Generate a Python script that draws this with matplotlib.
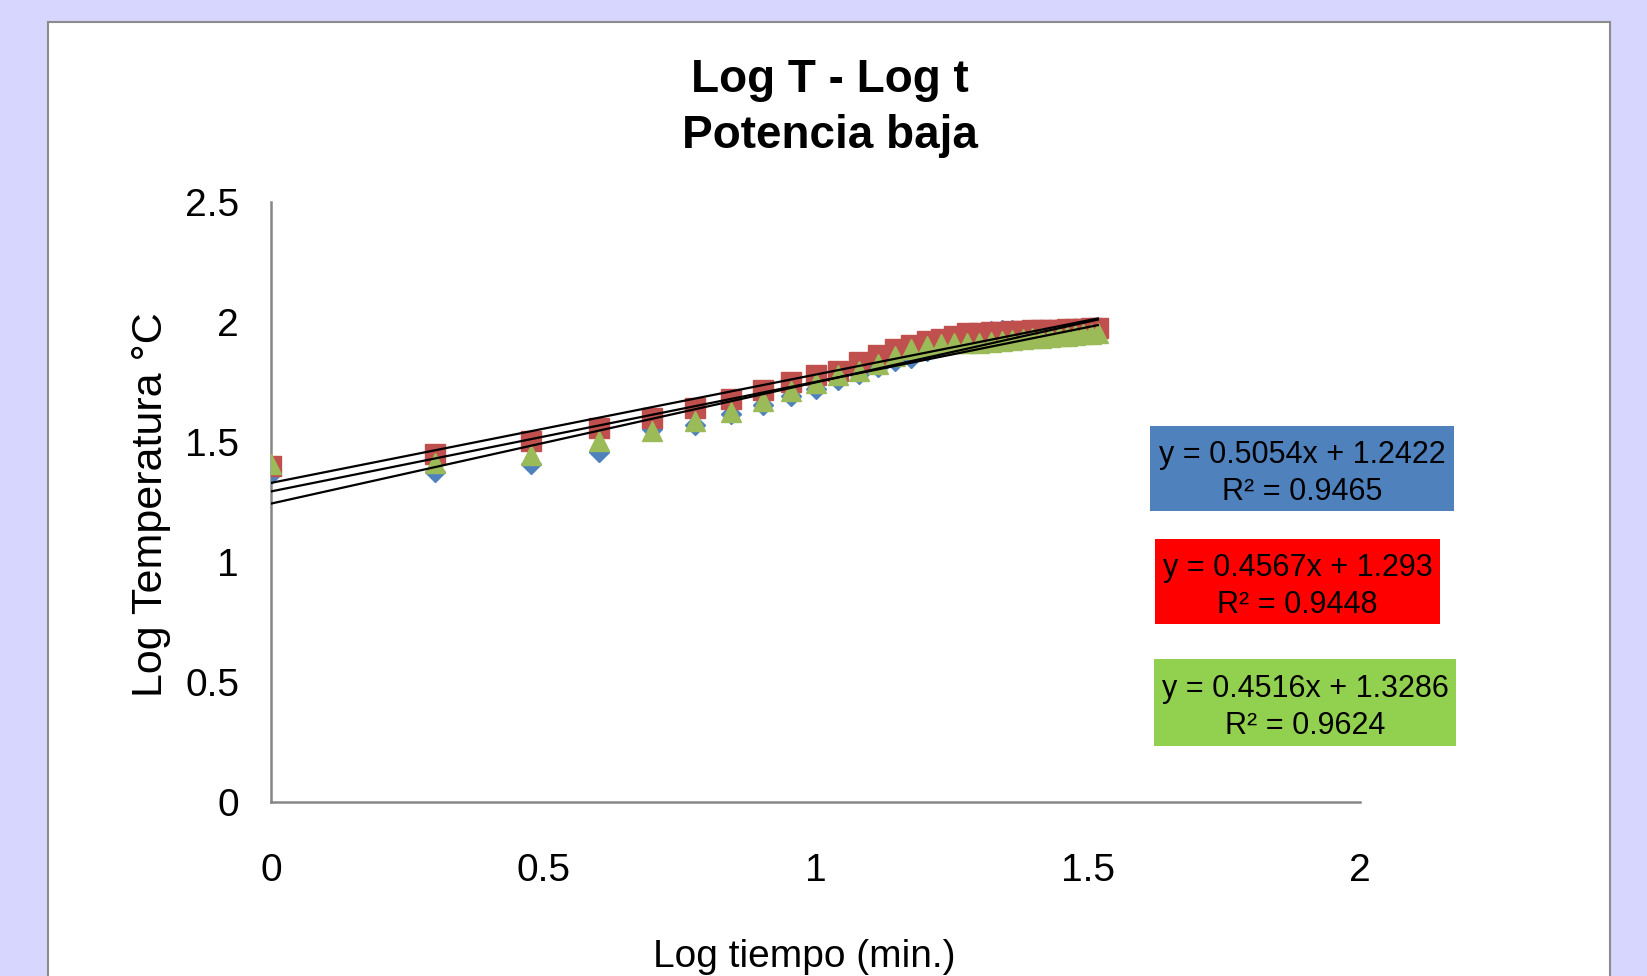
import numpy as np
import matplotlib
matplotlib.use("Agg")
import matplotlib.pyplot as plt
from matplotlib.patches import Rectangle
from matplotlib.ticker import FuncFormatter

plt.rcParams['font.family'] = ['Liberation Sans', 'DejaVu Sans']

# tiempo en minutos (1..33), eje x = log10(t)
t_min = np.arange(1, 34)
log_t = np.log10(t_min)

# log T por serie
log_T_azul = [1.367, 1.373, 1.408, 1.456, 1.555, 1.571, 1.616, 1.653, 1.693, 1.720,
              1.756, 1.784, 1.810, 1.835, 1.850, 1.880, 1.900, 1.925, 1.940, 1.950,
              1.960, 1.965, 1.965, 1.963, 1.962, 1.962, 1.961, 1.961, 1.960, 1.960,
              1.960, 1.960, 1.960]
log_T_rojo = [1.398, 1.449, 1.502, 1.557, 1.598, 1.643, 1.678, 1.715, 1.750, 1.780,
              1.797, 1.832, 1.860, 1.886, 1.904, 1.920, 1.930, 1.940, 1.955, 1.955,
              1.957, 1.958, 1.960, 1.962, 1.965, 1.966, 1.967, 1.968, 1.970, 1.970,
              1.972, 1.973, 1.975]
log_T_verde = [1.408, 1.412, 1.444, 1.502, 1.544, 1.588, 1.625, 1.669, 1.711, 1.745,
               1.777, 1.797, 1.824, 1.858, 1.886, 1.900, 1.908, 1.910, 1.912, 1.914,
               1.916, 1.920, 1.924, 1.928, 1.931, 1.934, 1.937, 1.940, 1.943, 1.946,
               1.948, 1.951, 1.953]

# lineas de tendencia (pendiente, ordenada, R2)
pendientes = [0.5054, 0.4567, 0.4516]
ordenadas = [1.2422, 1.293, 1.3286]
r2 = [0.9465, 0.9448, 0.9624]
etiquetas_eq = ["y = 0.5054x + 1.2422\nR² = 0.9465",
                "y = 0.4567x + 1.293\nR² = 0.9448",
                "y = 0.4516x + 1.3286\nR² = 0.9624"]

x_ticks = [0, 0.5, 1, 1.5, 2]
y_ticks = [0, 0.5, 1, 1.5, 2, 2.5]

W, H = 1647, 976
fig = plt.figure(figsize=(W / 100, H / 100), dpi=100)
fig.patch.set_facecolor('#D6D6FE')

# panel blanco con borde gris
fig.patches.append(Rectangle((48 / W, -0.02), (1610 - 48) / W, 1 - 22 / H + 0.02,
                             transform=fig.transFigure, facecolor='white',
                             edgecolor='#8C8C8C', linewidth=1.5, zorder=-1))

ax = fig.add_axes([271 / W, 1 - 801.5 / H, (1360 - 271) / W, (801.5 - 202) / H])
ax.set_facecolor('none')

ax.plot(log_t, log_T_azul, linestyle='none', marker='D', markersize=10,
        color='#4F81BD', zorder=3)
ax.plot(log_t, log_T_rojo, linestyle='none', marker='s', markersize=14,
        color='#C0504D', zorder=4)
ax.plot(log_t, log_T_verde, linestyle='none', marker='^', markersize=15,
        color='#9BBB59', zorder=5)

xs = np.array([log_t[0], log_t[-1]])
for m, b in zip(pendientes, ordenadas):
    ax.plot(xs, m * xs + b, color='black', linewidth=1.6, zorder=6)

ax.set_xlim(0, 2)
ax.set_ylim(0, 2.5)
ax.set_xticks(x_ticks)
ax.set_yticks(y_ticks)
fmt = FuncFormatter(lambda v, p: '%g' % v)
ax.xaxis.set_major_formatter(fmt)
ax.yaxis.set_major_formatter(fmt)
ax.tick_params(axis='both', length=0, labelsize=28)
ax.tick_params(axis='x', pad=37)
ax.tick_params(axis='y', pad=23)
for s in ['top', 'right']:
    ax.spines[s].set_visible(False)
for s in ['left', 'bottom']:
    ax.spines[s].set_color('#868686')
    ax.spines[s].set_linewidth(1.8)

ax.set_xlabel('Log tiempo (min.)', fontsize=28)
ax.xaxis.set_label_coords(0.49, -0.259)
ax.xaxis.label.set_va('center')
ax.set_ylabel('Log Temperatura °C', fontsize=31)
ax.yaxis.set_label_coords(-0.11, 0.496)
ax.yaxis.label.set_va('center')

fig.text(830 / W, 1 - 108 / H, 'Log T - Log t\nPotencia baja', ha='center',
         va='center', fontsize=33, fontweight='bold', linespacing=1.33)

# cajas de ecuaciones
cajas = [(1150, 426, 1454, 511, '#4F81BD'),
         (1155, 539, 1440, 624, '#FF0000'),
         (1154, 659, 1456, 746, '#92D050')]
for (x0, y0, x1, y1, c), txt in zip(cajas, etiquetas_eq):
    fig.patches.append(Rectangle((x0 / W, 1 - y1 / H), (x1 - x0) / W, (y1 - y0) / H,
                                 transform=fig.transFigure, facecolor=c,
                                 edgecolor='none', zorder=1))
    fig.text((x0 + x1) / 2 / W, 1 - ((y0 + y1) / 2 + 5) / H, txt, ha='center',
             va='center', fontsize=22, linespacing=1.27, zorder=2)

fig.savefig('out.png', dpi=100, facecolor=fig.get_facecolor())
